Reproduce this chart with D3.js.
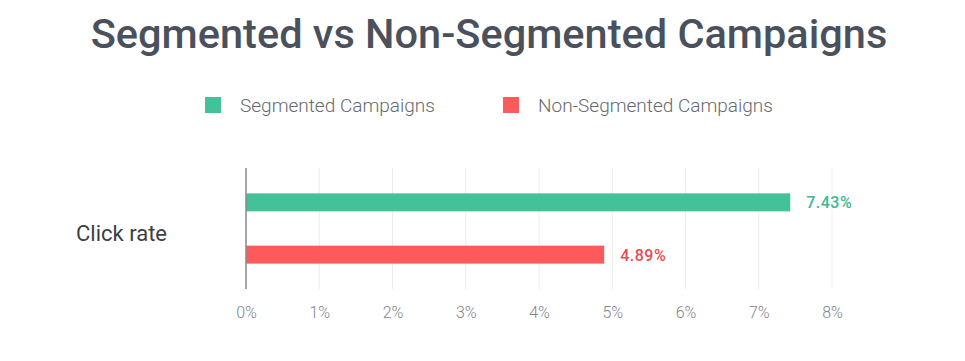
<!DOCTYPE html>
<html>
<head>
<meta charset="utf-8">
<script src="https://cdn.jsdelivr.net/npm/d3@7"></script>
<style>
  body { margin: 0; background: #fff; }
  text { font-family: Roboto, "Noto Sans", sans-serif; }
</style>
</head>
<body>
<div id="chart"></div>
<script>
// chart data
const categories = ["Click rate"];
const seriesNames = ["Segmented Campaigns", "Non-Segmented Campaigns"];
const seriesValues = [7.43, 4.89];
const seriesColors = ["#43c198", "#fd5a5c"];
const labelColors = ["#3bb98d", "#ef4a4f"];
const tickValues = [0, 1, 2, 3, 4, 5, 6, 7, 8];

const width = 965, height = 361;
const svg = d3.select("#chart").append("svg")
    .attr("width", width)
    .attr("height", height);

// title
svg.append("text")
    .attr("x", 489)
    .attr("y", 48)
    .attr("text-anchor", "middle")
    .attr("font-size", 41.5)
    .attr("font-weight", 500)
    .attr("fill", "#4a515c")
    .text("Segmented vs Non-Segmented Campaigns");

// legend
const legendX = [205, 503];
seriesNames.forEach((name, i) => {
    svg.append("rect")
        .attr("x", legendX[i])
        .attr("y", 97)
        .attr("width", 16)
        .attr("height", 16)
        .attr("fill", seriesColors[i]);
    svg.append("text")
        .attr("x", legendX[i] + 35)
        .attr("y", 112)
        .attr("font-size", 19)
        .attr("font-weight", 300)
        .attr("fill", "#666a70")
        .text(name);
});

const x = d3.scaleLinear().domain([0, 8]).range([246, 832]);
const y = d3.scaleBand().domain(seriesNames).range([171, 286]).paddingInner(0.2).paddingOuter(0.2);

// gridlines
svg.append("g")
    .selectAll("line")
    .data(tickValues.slice(1))
    .enter()
    .append("line")
    .attr("x1", d => x(d))
    .attr("x2", d => x(d))
    .attr("y1", 168)
    .attr("y2", 289)
    .attr("stroke", "#ececec")
    .attr("stroke-width", 1);

// bars
svg.append("g")
    .selectAll("rect")
    .data(seriesValues)
    .enter()
    .append("rect")
    .attr("x", x(0))
    .attr("y", (d, i) => y(seriesNames[i]) + (y.bandwidth() - 18) / 2)
    .attr("width", d => x(d) - x(0))
    .attr("height", 18)
    .attr("fill", (d, i) => seriesColors[i]);

// value labels
svg.append("g")
    .selectAll("text")
    .data(seriesValues)
    .enter()
    .append("text")
    .attr("x", d => x(d) + 16)
    .attr("y", (d, i) => y(seriesNames[i]) + y.bandwidth() / 2 + 6)
    .attr("font-size", 16)
    .attr("font-weight", 500)
    .attr("letter-spacing", 0.5)
    .attr("fill", (d, i) => labelColors[i])
    .text(d => d.toFixed(2) + "%");

// zero axis line
svg.append("line")
    .attr("x1", x(0))
    .attr("x2", x(0))
    .attr("y1", 168)
    .attr("y2", 289)
    .attr("stroke", "#888")
    .attr("stroke-width", 1.5);

// x axis
const xAxis = d3.axisBottom(x)
    .tickValues(tickValues)
    .tickSize(0)
    .tickPadding(0)
    .tickFormat(d => d + "%");
const gx = svg.append("g")
    .attr("transform", "translate(0,307)")
    .call(xAxis);
gx.select(".domain").remove();
gx.selectAll("text")
    .attr("font-size", 16)
    .attr("font-weight", 300)
    .attr("font-family", "Roboto, sans-serif")
    .attr("fill", "#80858c");

// category label
svg.append("text")
    .attr("x", 76)
    .attr("y", 241)
    .attr("font-size", 22)
    .attr("fill", "#3c3f44")
    .text(categories[0]);
</script>
</body>
</html>
